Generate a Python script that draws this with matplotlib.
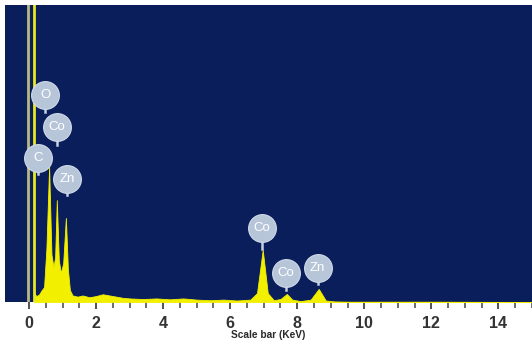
import matplotlib.pyplot as plt
import numpy as np

# spectrum vertices (keV, counts; 1000 = top of frame)
energy = [0.15, 0.22, 0.30, 0.38, 0.45, 0.52, 0.60, 0.67, 0.73, 0.78, 0.83, 0.89,
          0.95, 1.02, 1.10, 1.16, 1.22, 1.30, 1.45, 1.60, 1.80, 2.00, 2.20, 2.40,
          2.60, 2.80, 3.00, 3.40, 3.80, 4.20, 4.60, 5.00, 5.40, 5.80, 6.20, 6.60,
          6.80, 6.97, 7.12, 7.30, 7.50, 7.69, 7.85, 8.10, 8.40, 8.64, 8.85, 9.10,
          9.50, 10.5, 12.0, 15.0]
counts = [30, 20, 25, 40, 50, 180, 455, 160, 118, 150, 343, 140,
          98, 130, 283, 110, 40, 22, 18, 22, 16, 20, 26, 22,
          18, 14, 12, 10, 12, 9, 12, 8, 6, 8, 5, 8,
          30, 175, 30, 6, 10, 27, 8, 3, 8, 44, 5, 2,
          1, 1, 1, 0]

zero_lines = [-0.03, 0.14]

# element badges: label, energy, height of badge centre, height of stem end
badge_text = ['O', 'Co', 'C', 'Zn', 'Co', 'Co', 'Zn']
badge_x = [0.48, 0.83, 0.27, 1.13, 6.94, 7.66, 8.61]
badge_y = [697, 589, 485, 414, 249, 98, 114]
stem_end = [640, 530, 430, 360, 180, 40, 60]

navy = '#0a1e5c'
yellow = '#f2f000'

fig = plt.figure(figsize=(5.32, 3.49), dpi=100)
ax = fig.add_axes([5 / 532, 47 / 349, 527 / 532, 297 / 349])
ax.set_facecolor(navy)

ax.fill_between(energy, counts, 0, color=yellow, lw=0.6, zorder=2)
ax.axvline(zero_lines[0], color='#b8b880', lw=2.0, zorder=3)
ax.axvline(zero_lines[1], color='#e8e820', lw=2.0, zorder=3)

for t, x, y, s in zip(badge_text, badge_x, badge_y, stem_end):
    ax.plot([x, x], [y, s], color='#c4d0e0', lw=1.8, zorder=4)
    ax.scatter([x], [y], s=400, color='#b7c5d9', edgecolors='#d0dbe8',
               linewidths=0.8, zorder=5)
    ax.text(x, y, t, color='white', fontsize=9.5, ha='center', va='center',
            family='Liberation Sans', zorder=6)

ax.set_xlim(-0.715, 15.0)
ax.set_ylim(0, 1000)
ax.set_xticks(np.arange(0, 16, 2))
ax.set_xticks(np.arange(0, 15.5, 0.5), minor=True)
ax.set_yticks([])
ax.tick_params(axis='x', which='major', length=5, width=1.3, color='#444444',
               pad=5, labelsize=11.5, labelcolor='#333333')
ax.tick_params(axis='x', which='minor', length=4, width=1.1, color='#444444')
for lab in ax.get_xticklabels():
    lab.set_fontfamily('Liberation Sans')
    lab.set_fontweight('bold')
for sp in ax.spines.values():
    sp.set_visible(False)

ax.set_xlabel('Scale bar (KeV)', fontsize=7.3, fontweight='bold',
              family='Liberation Sans', color='#2a2a2a', labelpad=-1)

fig.savefig('out.png', dpi=100, facecolor='white')
